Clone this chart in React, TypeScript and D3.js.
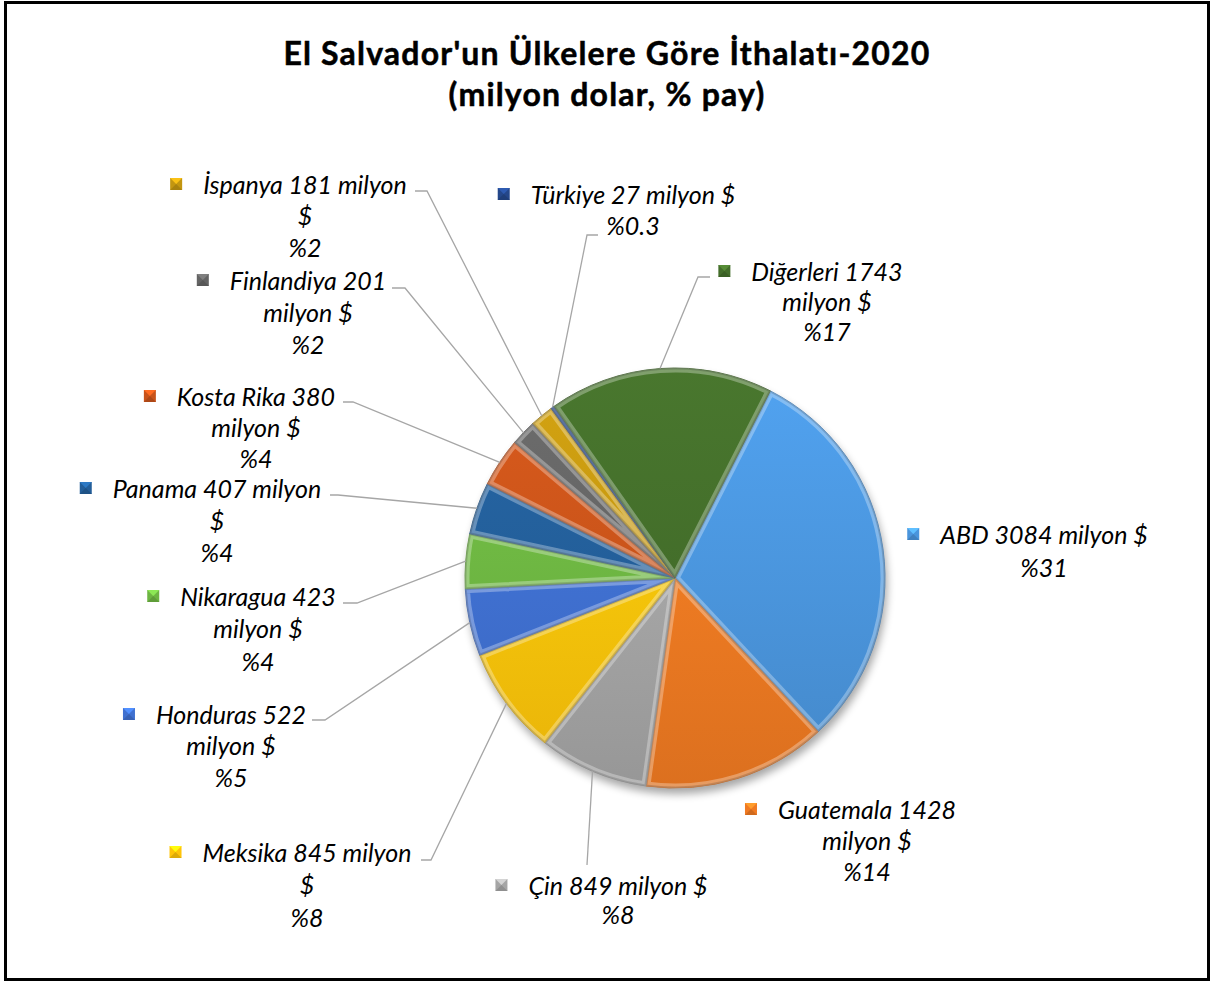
import React, { useEffect, useRef } from "react";
import * as d3 from "d3";

const categories = ["ABD", "Guatemala", "Çin", "Meksika", "Honduras", "Nikaragua", "Panama", "Kosta Rika", "Finlandiya", "İspanya", "Türkiye", "Diğerleri"];
const values = [3084, 1428, 849, 845, 522, 423, 407, 380, 201, 181, 27, 1743];
const shares = ["%31", "%14", "%8", "%8", "%5", "%4", "%4", "%4", "%2", "%2", "%0.3", "%17"];
const colors = ["#4a95dc", "#f07a22", "#a5a5a5", "#ffc40a", "#3f70d0", "#6db542", "#235e99", "#c8531a", "#646464", "#c39610", "#24478a", "#436d2a"];
const titleLines = ["El Salvador'un Ülkelere Göre İthalatı-2020", "(milyon dolar, % pay)"];

const W = 1212, H = 983;
const CX = 675, CY = 578, R = 210;
const START_DEG = 27;
const FONT = "Lato, 'Open Sans', sans-serif";
const LABEL_SIZE = 25;
const KEY = 12;

// label layout: wrap style, block centre x, first-line centre y, line gap, leader start points
type Layout = { wrap: number; x: number; y: number; gap: number; leader: number[][] | null };
const labelLayout: Layout[] = [
  { wrap: 1, x: 1044, y: 535, gap: 33, leader: null },
  { wrap: 2, x: 867, y: 810, gap: 31, leader: null },
  { wrap: 1, x: 618, y: 886, gap: 29.5, leader: [[587, 865]] },
  { wrap: 3, x: 307, y: 853, gap: 32.5, leader: [[421, 860], [431, 860]] },
  { wrap: 2, x: 231, y: 715, gap: 31.5, leader: [[312, 720], [325, 720]] },
  { wrap: 2, x: 258, y: 597, gap: 32.5, leader: [[343, 603], [357, 603]] },
  { wrap: 3, x: 217, y: 489, gap: 32, leader: [[330, 495], [338, 495]] },
  { wrap: 2, x: 256, y: 397, gap: 31, leader: [[343, 402], [353, 402]] },
  { wrap: 2, x: 308, y: 281, gap: 32, leader: [[392, 288], [405, 288]] },
  { wrap: 3, x: 305, y: 185, gap: 31.5, leader: [[415, 191], [427, 191]] },
  { wrap: 1, x: 633, y: 195, gap: 31.7, leader: [[598, 235], [587, 235]] },
  { wrap: 2, x: 827, y: 272, gap: 30, leader: [[710, 277], [698, 277]] },
];

function linesFor(i: number): string[] {
  const name = categories[i], v = values[i], p = shares[i];
  const w = labelLayout[i].wrap;
  if (w === 1) return [`${name} ${v} milyon $`, p];
  if (w === 2) return [`${name} ${v}`, "milyon $", p];
  return [`${name} ${v} milyon`, "$", p];
}

export default function App() {
  const ref = useRef<SVGSVGElement | null>(null);

  useEffect(() => {
    const svg = d3.select(ref.current);
    svg.selectAll("*").remove();
    const defs = svg.append("defs");

    const filt = defs.append("filter").attr("id", "shadow").attr("x", "-20%").attr("y", "-20%").attr("width", "140%").attr("height", "140%");
    filt.append("feGaussianBlur").attr("stdDeviation", 4);

    svg.append("rect").attr("x", 0).attr("y", 0).attr("width", W).attr("height", H).attr("fill", "#fff");
    svg.append("rect").attr("x", 5.5).attr("y", 2.5).attr("width", 1203).attr("height", 977)
      .attr("fill", "none").attr("stroke", "#000").attr("stroke-width", 3);

    // title
    const title = svg.append("g").attr("font-family", FONT).attr("font-weight", "bold").attr("font-size", 32)
      .attr("letter-spacing", 1.2).attr("text-anchor", "middle").attr("stroke", "#000").attr("stroke-width", 0.5);
    title.selectAll("text").data(titleLines).join("text")
      .attr("x", 607).attr("y", (d, i) => 65 + i * 41).text(d => d);

    const pie = d3.pie<number>().value(d => d).sort(null)
      .startAngle((START_DEG * Math.PI) / 180).endAngle((START_DEG * Math.PI) / 180 + 2 * Math.PI);
    const arcs = pie(values);
    const arc = d3.arc<d3.PieArcDatum<number>>().innerRadius(0).outerRadius(R);

    // shadow
    svg.append("circle").attr("cx", CX + 2).attr("cy", CY + 6).attr("r", R).attr("fill", "#000").attr("opacity", 0.35).attr("filter", "url(#shadow)");

    const g = svg.append("g").attr("transform", `translate(${CX},${CY})`);

    arcs.forEach((a, i) => {
      const base = d3.color(colors[i])!;
      const gid = `grad${i}`;
      const lg = defs.append("linearGradient").attr("id", gid).attr("gradientUnits", "userSpaceOnUse")
        .attr("x1", 0).attr("y1", -R).attr("x2", 0).attr("y2", R);
      lg.append("stop").attr("offset", "0%").attr("stop-color", d3.color(colors[i])!.brighter(0.25).formatHex());
      lg.append("stop").attr("offset", "100%").attr("stop-color", d3.color(colors[i])!.darker(0.25).formatHex());
      const cid = `clip${i}`;
      defs.append("clipPath").attr("id", cid).append("path").attr("d", arc(a)!).attr("transform", `translate(${CX},${CY})`);

      g.append("path").attr("d", arc(a)!).attr("fill", `url(#${gid})`);
      const bev = svg.append("g").attr("clip-path", `url(#${cid})`).append("g").attr("transform", `translate(${CX},${CY})`);
      bev.append("path").attr("d", arc(a)!).attr("fill", "none").attr("stroke", "#fff").attr("stroke-opacity", 0.3).attr("stroke-width", 9);
      bev.append("path").attr("d", arc(a)!).attr("fill", "none").attr("stroke", "#000").attr("stroke-opacity", 0.14).attr("stroke-width", 3);
      g.append("path").attr("d", arc(a)!).attr("fill", "none").attr("stroke", base.darker(0.6).formatHex()).attr("stroke-width", 0.8);
    });

    // leader lines
    arcs.forEach((a, i) => {
      const L = labelLayout[i];
      if (!L.leader) return;
      const mid = (a.startAngle + a.endAngle) / 2;
      const ex = CX + Math.sin(mid) * R, ey = CY - Math.cos(mid) * R;
      const pts = [...L.leader, [ex, ey]] as [number, number][];
      svg.append("path").attr("d", d3.line()(pts)!).attr("fill", "none").attr("stroke", "#a6a6a6").attr("stroke-width", 1.3);
    });

    // labels
    arcs.forEach((a, i) => {
      const L = labelLayout[i];
      const lines = linesFor(i);
      const lg = svg.append("g").attr("font-family", FONT).attr("font-style", "italic").attr("font-size", LABEL_SIZE).attr("fill", "#000").attr("text-anchor", "middle");
      let firstW = 0;
      lines.forEach((t, k) => {
        const el = lg.append("text").attr("x", L.x).attr("y", L.y + k * L.gap + LABEL_SIZE * 0.34).text(t);
        if (k === 0) firstW = (el.node() as SVGTextElement).getComputedTextLength();
      });
      const kx = L.x - firstW / 2 - 21 - KEY;
      const ky = L.y - KEY / 2 - 1;
      const c = d3.color(colors[i])!;
      const h = KEY / 2;
      const kg = svg.append("g").attr("transform", `translate(${kx},${ky})`);
      kg.append("rect").attr("width", KEY).attr("height", KEY).attr("fill", c.formatHex());
      kg.append("path").attr("d", `M0,0L${KEY},0L${h},${h}Z`).attr("fill", c.brighter(0.7).formatHex());
      kg.append("path").attr("d", `M0,${KEY}L${KEY},${KEY}L${h},${h}Z`).attr("fill", c.darker(0.4).formatHex());
    });
  }, []);

  return <svg ref={ref} width={W} height={H} style={{ display: "block", position: "absolute", left: 0, top: 0 }} />;
}
